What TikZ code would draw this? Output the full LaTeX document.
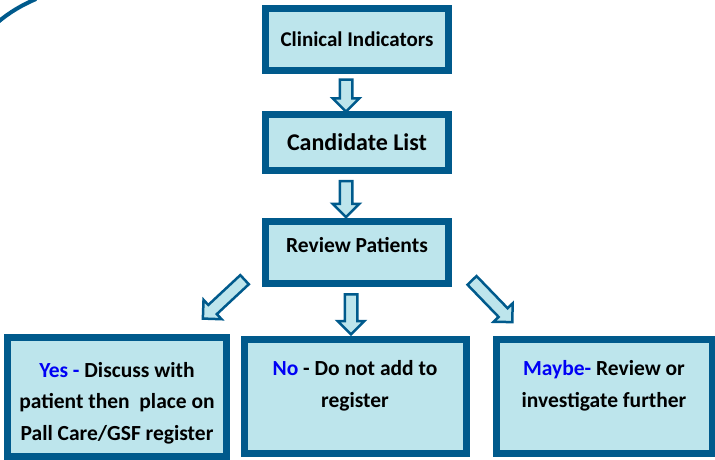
\documentclass[tikz,border=0pt]{standalone}
\usepackage{fontspec}
\setmainfont{Carlito}
\usetikzlibrary{shapes.arrows,calc}
\definecolor{boxedge}{RGB}{0,90,140}
\definecolor{boxfill}{RGB}{189,229,236}
\definecolor{ansblue}{RGB}{0,0,245}
\begin{document}
\begin{tikzpicture}[x=1pt,y=-1pt,
    stepbox/.style={draw=boxedge,fill=boxfill,line width=7pt,font=\bfseries,align=center,inner sep=0pt},
    blkarrow/.style={single arrow,draw=boxedge,fill=boxfill,line width=2.5pt,inner sep=5pt,
      single arrow head extend=7pt,minimum height=#1},
    blkarrow/.default=34]
    \useasboundingbox (0,0) rectangle (715,460);
    \draw[boxedge,line width=4pt] (-2,22) .. controls (10,12) and (22,5) .. (36,-1);
    % main column
    \node[stepbox,minimum width=183,minimum height=62,font=\bfseries\fontsize{21}{24}\selectfont] (ci) at (357,39.5) {Clinical Indicators};
    \node[stepbox,minimum width=183,minimum height=56,font=\bfseries\fontsize{24}{28}\selectfont] (cl) at (357,142.5) {Candidate List};
    \node[stepbox,minimum width=183,minimum height=62,text height=14pt,text depth=14pt,
      font=\bfseries\fontsize{21.5}{25}\selectfont] (rp) at (357,252.5) {Review Patients};
    % answers
    \node[stepbox,minimum width=219,minimum height=119,font=\bfseries\fontsize{21.5}{31.5}\selectfont] (yes) at (117,397)
      {\rule{0pt}{27pt}\textcolor{ansblue}{Yes -} Discuss with\\patient then~ place on\\Pall Care/GSF register};
    \node[stepbox,minimum width=222,minimum height=114,font=\bfseries\fontsize{21.5}{32.5}\selectfont] (no) at (355,396)
      {\rule{0pt}{33pt}\textcolor{ansblue}{No} - Do not add to\\register\\\strut};
    \node[stepbox,minimum width=216,minimum height=114,font=\bfseries\fontsize{21.5}{32.5}\selectfont] (maybe) at (604,396)
      {\rule{0pt}{33pt}\textcolor{ansblue}{Maybe-} Review or\\investigate further\\\strut};
    % block arrows
    \node[blkarrow=32,rotate=-90] (a1) at ($(ci.south)!0.5!(cl.north)+(-11,0)$) {};
    \node[blkarrow=36,rotate=-90] (a2) at ($(cl.south)!0.5!(rp.north)+(-11,0)$) {};
    \node[blkarrow=40,rotate=-90] (a3) at ($(rp.south)!0.5!(no.north)+(-5,0)$) {};
    \node[blkarrow=57,rotate=223] (a4) at (226,297) {};
    \node[blkarrow=58,rotate=-46] (a5) at (490,299) {};
\end{tikzpicture}
\end{document}
